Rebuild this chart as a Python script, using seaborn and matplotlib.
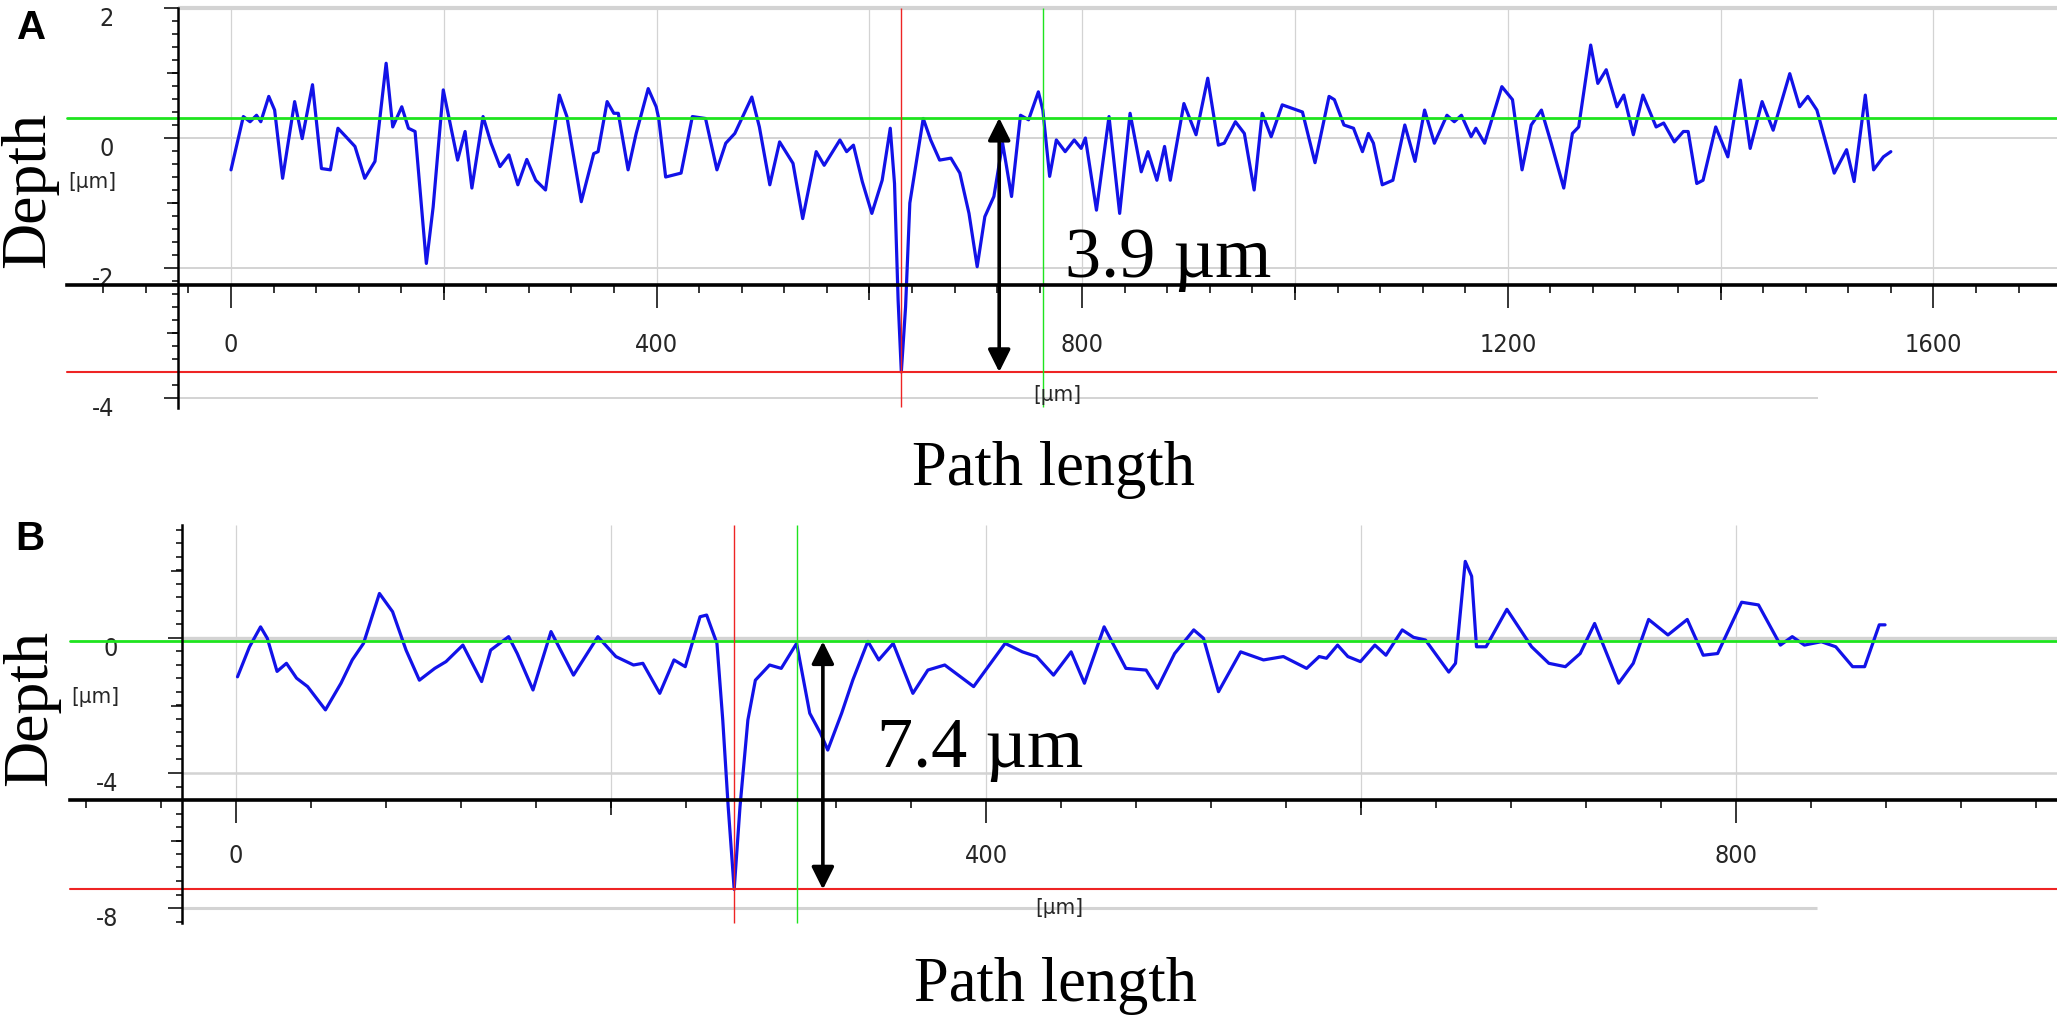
import numpy as np
import matplotlib
matplotlib.use("Agg")
import matplotlib.pyplot as plt
from matplotlib import font_manager
from matplotlib.font_manager import FontProperties
from matplotlib.ticker import FixedLocator, FuncFormatter
from matplotlib.transforms import ScaledTranslation
import seaborn as sns

# ==============================================================================
#   Daten: Profil A (Pfadlaenge in um, Tiefe in um)
# ==============================================================================
a_x = [0, 11.6, 17.9, 24, 28, 35.5, 41, 48.5, 59.8, 66.9, 76.6, 85, 93.4, 100.5,
       108, 116.5, 125.7, 135.3, 145.8, 152, 160.5, 166.8, 173, 183.6, 190, 199.5,
       213, 220, 226.4, 236.9, 244.4, 252.8, 261.2, 269.6, 278, 286.4, 295.6, 308.6,
       315.7, 329.2, 340.9, 345, 353.5, 359.8, 364, 373.2, 380.8, 392.1, 399.6, 402,
       408.5, 423, 433.6, 446, 456.7, 465, 473.5, 489.5, 496.6, 506.4, 515.6, 528.2,
       537.3, 550, 557.5, 572.3, 578.6, 585, 593.3, 602.3, 612, 619.6, 623.6, 627,
       630, 634, 638, 650.6, 657.6, 666, 676.6, 685, 693.6, 701.3, 708.5, 717,
       725.2, 733.6, 742, 749.6, 758.8, 763, 769.4, 775.7, 784, 792.5, 799, 803,
       813.4, 825.2, 835.2, 845, 855.5, 861.8, 870.2, 877.4, 882.8, 895.6, 907, 918,
       928, 933.5, 944, 952.4, 961.6, 969.2, 977.6, 988, 1007, 1018.8, 1032, 1037,
       1046, 1055, 1063.4, 1069, 1073.7, 1082, 1092, 1103.2, 1112.8, 1121.8, 1131,
       1142.8, 1149.7, 1156.4, 1165.5, 1170, 1178.2, 1194.4, 1204.4, 1213.4, 1222,
       1231.6, 1240.8, 1252.6, 1260.7, 1266.6, 1277.9, 1284.6, 1292.5, 1302.6, 1309,
       1318, 1327, 1339.4, 1346.5, 1356.5, 1365, 1369.5, 1377.6, 1383.5, 1395.4,
       1406.8, 1418.6, 1427.8, 1439, 1449.4, 1465, 1474.2, 1482, 1490.5, 1506.8,
       1518.4, 1525.5, 1536, 1543.8, 1553, 1560]
a_y = [-0.49, 0.33, 0.25, 0.35, 0.25, 0.64, 0.43, -0.62, 0.56, -0.01, 0.82, -0.47,
       -0.49, 0.15, 0.02, -0.13, -0.62, -0.36, 1.15, 0.17, 0.48, 0.15, 0.10, -1.93,
       -1.06, 0.74, -0.34, 0.10, -0.77, 0.33, -0.08, -0.44, -0.26, -0.72, -0.33,
       -0.65, -0.80, 0.66, 0.33, -0.98, -0.24, -0.21, 0.56, 0.38, 0.38, -0.49, 0.07,
       0.76, 0.48, 0.30, -0.60, -0.54, 0.33, 0.30, -0.49, -0.08, 0.07, 0.63, 0.17,
       -0.72, -0.06, -0.39, -1.24, -0.21, -0.42, -0.03, -0.21, -0.11, -0.67, -1.16,
       -0.65, 0.15, -0.70, -2.5, -3.6, -2.6, -1.0, 0.30, -0.03, -0.34, -0.31, -0.54,
       -1.16, -1.98, -1.21, -0.90, -0.08, -0.90, 0.35, 0.28, 0.71, 0.43, -0.59,
       -0.03, -0.21, -0.03, -0.16, 0.0, -1.11, 0.33, -1.16, 0.38, -0.52, -0.21,
       -0.65, -0.13, -0.65, 0.53, 0.05, 0.92, -0.11, -0.08, 0.25, 0.07, -0.80, 0.38,
       0.02, 0.51, 0.40, -0.38, 0.64, 0.59, 0.20, 0.15, -0.21, 0.07, -0.08, -0.72,
       -0.65, 0.20, -0.36, 0.43, -0.08, 0.35, 0.25, 0.35, 0.02, 0.15, -0.08, 0.79,
       0.59, -0.49, 0.20, 0.43, -0.08, -0.77, 0.07, 0.17, 1.43, 0.84, 1.05, 0.48,
       0.66, 0.05, 0.66, 0.17, 0.23, -0.06, 0.10, 0.10, -0.70, -0.65, 0.17, -0.29,
       0.89, -0.16, 0.56, 0.12, 0.99, 0.48, 0.64, 0.43, -0.54, -0.18, -0.67, 0.66,
       -0.49, -0.29, -0.21]

# Profil B
b_x = [0.8, 7.2, 13.1, 16.7, 21.9, 26.9, 32.3, 38.2, 47.7, 56, 62, 68, 76.5, 83.5,
       90.7, 97.8, 106, 112, 121, 131, 135.8, 145.4, 150, 158.4, 168, 180, 193,
       202.6, 212, 217, 226, 233.6, 239.6, 247.5, 251, 256.5, 259.6, 262.5, 265.7,
       268.8, 273, 277, 284.6, 290.8, 299, 306, 311.8, 315.6, 323, 329, 337, 342.8,
       350.5, 361, 369, 378, 393.4, 410.2, 419.4, 427, 436, 445.4, 452.5, 463,
       474.6, 485.4, 491.4, 500.6, 510.8, 516, 524, 535.8, 548, 558.6, 571, 577.7,
       581.6, 587.5, 593, 599.7, 607.4, 613.3, 622, 628, 634.4, 646.8, 650.4, 655.6,
       659, 661.6, 666.7, 677.8, 691, 700.2, 709, 716.9, 724.6, 737.4, 745.2, 753.4,
       763.7, 774, 782.5, 790.2, 803, 812, 823.7, 830, 836.5, 845.5, 853.2, 862.2,
       868.6, 876.4, 879.5]
b_y = [-1.15, -0.26, 0.33, -0.01, -0.99, -0.75, -1.19, -1.44, -2.13, -1.34, -0.65,
       -0.16, 1.32, 0.78, -0.36, -1.25, -0.90, -0.70, -0.21, -1.29, -0.36, 0.04,
       -0.46, -1.54, 0.19, -1.10, 0.04, -0.55, -0.80, -0.75, -1.64, -0.65, -0.85,
       0.63, 0.68, -0.16, -2.43, -5.0, -7.45, -5.0, -2.43, -1.25, -0.80, -0.90,
       -0.16, -2.23, -2.83, -3.32, -2.23, -1.24, -0.10, -0.65, -0.16, -1.64, -0.95,
       -0.80, -1.44, -0.16, -0.41, -0.55, -1.10, -0.41, -1.34, 0.33, -0.90, -0.95,
       -1.49, -0.46, 0.24, -0.01, -1.59, -0.41, -0.65, -0.55, -0.90, -0.55, -0.60,
       -0.21, -0.55, -0.70, -0.21, -0.51, 0.24, 0.02, -0.06, -1.01, -0.75, 2.27,
       1.83, -0.26, -0.26, 0.85, -0.26, -0.75, -0.85, -0.46, 0.43, -1.34, -0.75,
       0.55, 0.09, 0.55, -0.51, -0.46, 1.06, 0.98, -0.21, 0.04, -0.21, -0.11,
       -0.26, -0.85, -0.85, 0.39, 0.39]

# Referenzlinien, Cursor und Tiefenangaben
a_green, a_red = 0.31, -3.6
a_cursor_red, a_cursor_green = 630, 763
a_arrow_x = 722
a_depth_text = "3.9 µm"

b_green, b_red = -0.1, -7.45
b_cursor_red, b_cursor_green = 265.7, 299
b_arrow_x = 313
b_depth_text = "7.4 µm"

a_xticks = [0, 400, 800, 1200, 1600]
a_yticks = [2, 0, -2, -4]
b_xticks = [0, 400, 800]
b_yticks = [0, -4, -8]

# ==============================================================================
#   Layout (Pixel des Originalbildes)
# ==============================================================================
W, H = 2057, 1029
PT = 100 / 72.0  # px pro Punkt bei dpi=100

layout_a = dict(top=0, bottom=420, x0=231, sx=1.064, y0=138, sy=65,
                yaxis_px=178, yaxis_span=(8, 408), xaxis_py=285, line_start=67,
                grid_rows=[(2, 3.0, W), (0, 1.4, W), (-2, 1.4, W), (-4, 1.4, 1818)],
                grid_cols=[0, 200, 400, 600, 800, 1000, 1200, 1400, 1600],
                grid_top=8, cursor_span=(8, 407),
                x_med=[200, 600, 1000, 1400], x_minor=np.arange(-120, 1717, 40),
                y_med=[1, -1, -3], y_minor=np.round(np.arange(-4.0, 2.01, 0.2), 2),
                xpad=25, label_pos=(784, -2.14))
layout_b = dict(top=515, bottom=940, x0=236, sx=1.875, y0=638, sy=33.75,
                yaxis_px=182, yaxis_span=(525, 923), xaxis_py=800, line_start=70,
                grid_rows=[(0, 2.4, W), (-4, 1.8, W), (-8, 2.2, 1817)],
                grid_cols=[0, 200, 400, 600, 800],
                grid_top=525, cursor_span=(525, 923),
                x_med=[200, 600], x_minor=np.arange(-80, 961, 40),
                y_med=[2, -2, -6], y_minor=np.round(np.arange(-8.4, 3.3, 0.4), 2),
                xpad=21, label_pos=(342, -3.82))

BLUE = "#1212E8"
GREEN = "#1EE41E"
RED = "#EE2424"
GRID = "#D3D3D3"
LBL = "#262626"

sns.set_style("white")
SERIF = "Liberation Serif"
plt.rcParams["font.family"] = ["Liberation Sans", "DejaVu Sans"]
plt.rcParams["axes.unicode_minus"] = False

# schmale Schrift fuer die Achsenbeschriftung, falls vorhanden
narrow_file = None
for f in font_manager.fontManager.ttflist:
    if ("Narrow" in f.name or "Condensed" in f.fname or f.stretch == "condensed") \
            and f.weight in (400, "normal", "regular") and f.style == "normal":
        narrow_file = f.fname
        break
if narrow_file:
    TICK_FP = FontProperties(fname=narrow_file, size=18)
else:
    TICK_FP = FontProperties(family="Liberation Sans", size=15)
UNIT_FP = TICK_FP.copy()
UNIT_FP.set_size(TICK_FP.get_size() - 2)

fig = plt.figure(figsize=(W / 100, H / 100), dpi=100)


def draw_panel(lay, xs, ys, green, red, c_red, c_green, arrow_x, text, xticks, yticks):
    ax = fig.add_axes([0, 1 - lay["bottom"] / H, 1, (lay["bottom"] - lay["top"]) / H])
    ax.set_facecolor("none")
    ux = lambda px: (px - lay["x0"]) / lay["sx"]
    vy = lambda py: (lay["y0"] - py) / lay["sy"]
    y_lo, y_hi = vy(lay["bottom"]), vy(lay["top"])
    ax.set_xlim(ux(0), ux(W))
    ax.set_ylim(y_lo, y_hi)

    # Gitter
    for level, lw, end_px in lay["grid_rows"]:
        ax.hlines(level, ux(lay["yaxis_px"]), ux(end_px), color=GRID, lw=lw, zorder=1)
    ax.vlines(lay["grid_cols"], vy(lay["xaxis_py"]), vy(lay["grid_top"]),
              color=GRID, lw=0.9, zorder=1)

    # Profil
    sns.lineplot(x=xs, y=ys, ax=ax, color=BLUE, linewidth=2.3, estimator=None, zorder=2)

    # Referenzlinien und Cursor
    xs_frac = lay["line_start"] / W
    ax.axhline(green, xmin=xs_frac, color=GREEN, lw=2.0, zorder=3)
    ax.axhline(red, xmin=xs_frac, color=RED, lw=1.5, zorder=3)
    c0, c1 = vy(lay["cursor_span"][1]), vy(lay["cursor_span"][0])
    ax.vlines([c_red], c0, c1, color=RED, lw=1.0, zorder=4)
    ax.vlines([c_green], c0, c1, color=GREEN, lw=1.0, zorder=4)

    # Tiefenpfeil
    ax.annotate("", xy=(arrow_x, red), xytext=(arrow_x, green),
                arrowprops=dict(arrowstyle="<|-|>", color="black", lw=2.6,
                                mutation_scale=34, shrinkA=0, shrinkB=0), zorder=5)
    ax.text(lay["label_pos"][0], lay["label_pos"][1], text, family=SERIF, fontsize=52,
            ha="left", va="baseline", color="black", zorder=6)

    # Achsen
    for s in ("top", "right"):
        ax.spines[s].set_visible(False)
    ax.spines["left"].set_position(("data", ux(lay["yaxis_px"])))
    ax.spines["left"].set_bounds(vy(lay["yaxis_span"][1]), vy(lay["yaxis_span"][0]))
    ax.spines["bottom"].set_position(("data", vy(lay["xaxis_py"])))
    ax.spines["bottom"].set_bounds(ux(lay["line_start"]), ux(W))
    ax.spines["left"].set_linewidth(1.8)
    ax.spines["bottom"].set_linewidth(2.6)
    for s in ("left", "bottom"):
        ax.spines[s].set_color("black")
        ax.spines[s].set_zorder(4)

    ax.xaxis.set_major_locator(FixedLocator(xticks))
    ax.xaxis.set_minor_locator(FixedLocator(lay["x_minor"]))
    ax.yaxis.set_major_locator(FixedLocator(yticks))
    ax.yaxis.set_minor_locator(FixedLocator(lay["y_minor"]))
    ax.xaxis.set_major_formatter(FuncFormatter(lambda v, p: f"{v:g}"))
    ax.yaxis.set_major_formatter(FuncFormatter(lambda v, p: f"{v:g}"))
    ax.tick_params(axis="x", which="major", bottom=True, direction="out", length=23 / PT,
                   width=1.1, color="black", labelcolor=LBL, pad=lay["xpad"] / PT)
    ax.tick_params(axis="x", which="minor", bottom=True, direction="out", length=8 / PT,
                   width=1.1, color="black")
    ax.tick_params(axis="y", which="major", left=True, direction="out", length=14 / PT,
                   width=1.1, color="black", labelcolor=LBL, pad=36)
    ax.tick_params(axis="y", which="minor", left=True, direction="out", length=6 / PT,
                   width=1.1, color="black")

    # mittlere Ticks ueber Sekundaerachsen
    fx = (vy(lay["xaxis_py"]) - y_lo) / (y_hi - y_lo)
    sec_x = ax.secondary_xaxis(fx)
    sec_x.set_xticks(lay["x_med"])
    sec_x.tick_params(axis="x", bottom=True, top=False, direction="out",
                      length=15 / PT, width=1.1, color="black",
                      labelbottom=False, labeltop=False)
    for sp in sec_x.spines.values():
        sp.set_visible(False)
    x_lo, x_hi = ax.get_xlim()
    fy = (ux(lay["yaxis_px"]) - x_lo) / (x_hi - x_lo)
    sec_y = ax.secondary_yaxis(fy)
    sec_y.set_yticks(lay["y_med"])
    sec_y.tick_params(axis="y", left=True, right=False, direction="out",
                      length=11 / PT, width=1.1, color="black",
                      labelleft=False, labelright=False)
    for sp in sec_y.spines.values():
        sp.set_visible(False)

    for t in ax.get_xticklabels():
        t.set_fontproperties(TICK_FP)
    off = ScaledTranslation(0, -9 / 100, fig.dpi_scale_trans)
    for t in ax.get_yticklabels():
        t.set_fontproperties(TICK_FP)
        t.set_transform(t.get_transform() + off)
    return ax


ax_a = draw_panel(layout_a, a_x, a_y, a_green, a_red, a_cursor_red, a_cursor_green,
                  a_arrow_x, a_depth_text, a_xticks, a_yticks)
ax_b = draw_panel(layout_b, b_x, b_y, b_green, b_red, b_cursor_red, b_cursor_green,
                  b_arrow_x, b_depth_text, b_xticks, b_yticks)


def ftext(px, py, s, **kw):
    fig.text(px / W, 1 - py / H, s, ha="center", va="center", **kw)


# Beschriftungen
ftext(32, 28, "A", family="Liberation Sans", weight="bold", fontsize=29, color="black")
ftext(30, 539, "B", family="Liberation Sans", weight="bold", fontsize=29, color="black")
ftext(29, 190, "Depth", family=SERIF, fontsize=46, rotation=90, color="black")
ftext(31, 708, "Depth", family=SERIF, fontsize=46, rotation=90, color="black")
ftext(1054, 470, "Path length", family=SERIF, fontsize=45, color="black")
ftext(1056, 986, "Path length", family=SERIF, fontsize=45, color="black")
ftext(92, 182, "[µm]", fontproperties=UNIT_FP, color=LBL)
ftext(95, 697, "[µm]", fontproperties=UNIT_FP, color=LBL)
ftext(1057, 395, "[µm]", fontproperties=UNIT_FP, color=LBL)
ftext(1059, 908, "[µm]", fontproperties=UNIT_FP, color=LBL)

fig.savefig("out.png", dpi=100)
